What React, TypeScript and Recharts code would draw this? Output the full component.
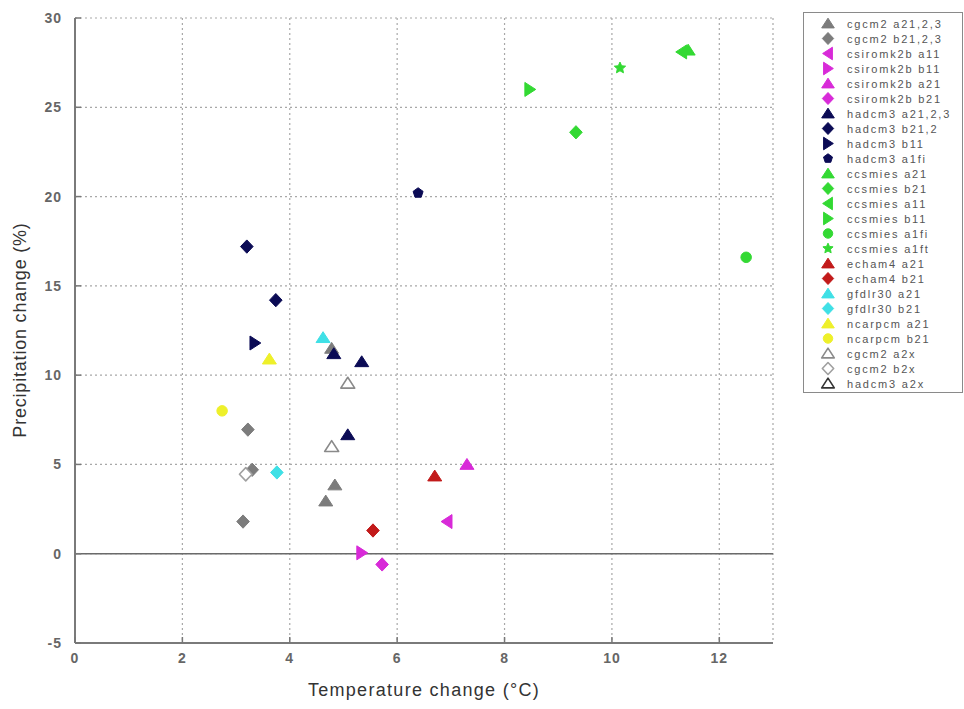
import React from 'react';
import { ScatterChart, Scatter, XAxis, YAxis, CartesianGrid, ReferenceLine, Legend } from 'recharts';

// ---- data (temperature change °C, precipitation change %) ----
const cgcm2A21 = [{ x: 4.78, y: 11.5 }, { x: 4.84, y: 3.85 }, { x: 4.67, y: 2.95 }];
const cgcm2B21 = [{ x: 3.22, y: 6.95 }, { x: 3.3, y: 4.7 }, { x: 3.13, y: 1.8 }];
const csiroA11 = [{ x: 6.93, y: 1.8 }];
const csiroB11 = [{ x: 5.34, y: 0.05 }];
const csiroA21 = [{ x: 7.3, y: 5.0 }];
const csiroB21 = [{ x: 5.72, y: -0.6 }];
const hadcm3A21 = [{ x: 4.82, y: 11.2 }, { x: 5.34, y: 10.75 }, { x: 5.08, y: 6.66 }];
const hadcm3B21 = [{ x: 3.2, y: 17.2 }, { x: 3.74, y: 14.2 }];
const hadcm3B11 = [{ x: 3.35, y: 11.8 }];
const hadcm3A1fi = [{ x: 6.39, y: 20.2 }];
const ccsmiesA21 = [{ x: 11.42, y: 28.2 }];
const ccsmiesB21 = [{ x: 9.33, y: 23.6 }];
const ccsmiesA11 = [{ x: 11.3, y: 28.1 }];
const ccsmiesB11 = [{ x: 8.47, y: 26.0 }];
const ccsmiesA1fi = [{ x: 12.5, y: 16.6 }];
const ccsmiesA1ft = [{ x: 10.15, y: 27.2 }];
const echam4A21 = [{ x: 6.7, y: 4.35 }];
const echam4B21 = [{ x: 5.55, y: 1.3 }];
const gfdlA21 = [{ x: 4.62, y: 12.1 }];
const gfdlB21 = [{ x: 3.76, y: 4.55 }];
const ncarA21 = [{ x: 3.62, y: 10.9 }];
const ncarB21 = [{ x: 2.74, y: 8.0 }];
const cgcm2A2x = [{ x: 5.08, y: 9.55 }, { x: 4.78, y: 6.0 }];
const cgcm2B2x = [{ x: 3.18, y: 4.45 }];
const hadcm3A2x: { x: number; y: number }[] = [];

const xTicks = [0, 2, 4, 6, 8, 10, 12];
const yTicks = [-5, 0, 5, 10, 15, 20, 25, 30];

const GRAY = '#7c7c7c';
const MAGENTA = '#d82ad8';
const NAVY = '#0b0b55';
const GREEN = '#33d933';
const RED = '#c21a1a';
const CYAN = '#3fe0e6';
const YELLOW = '#eef02a';

type Kind = 'up' | 'left' | 'right' | 'diamond' | 'circle' | 'pentagon' | 'star';

const seriesList: { name: string; data: { x: number; y: number }[]; kind: Kind; fill: string; stroke: string }[] = [
  { name: 'cgcm2 a21,2,3', data: cgcm2A21, kind: 'up', fill: GRAY, stroke: GRAY },
  { name: 'cgcm2 b21,2,3', data: cgcm2B21, kind: 'diamond', fill: GRAY, stroke: GRAY },
  { name: 'csiromk2b a11', data: csiroA11, kind: 'left', fill: MAGENTA, stroke: MAGENTA },
  { name: 'csiromk2b b11', data: csiroB11, kind: 'right', fill: MAGENTA, stroke: MAGENTA },
  { name: 'csiromk2b a21', data: csiroA21, kind: 'up', fill: MAGENTA, stroke: MAGENTA },
  { name: 'csiromk2b b21', data: csiroB21, kind: 'diamond', fill: MAGENTA, stroke: MAGENTA },
  { name: 'hadcm3 a21,2,3', data: hadcm3A21, kind: 'up', fill: NAVY, stroke: NAVY },
  { name: 'hadcm3 b21,2', data: hadcm3B21, kind: 'diamond', fill: NAVY, stroke: NAVY },
  { name: 'hadcm3 b11', data: hadcm3B11, kind: 'right', fill: NAVY, stroke: NAVY },
  { name: 'hadcm3 a1fi', data: hadcm3A1fi, kind: 'pentagon', fill: NAVY, stroke: NAVY },
  { name: 'ccsmies a21', data: ccsmiesA21, kind: 'up', fill: GREEN, stroke: GREEN },
  { name: 'ccsmies b21', data: ccsmiesB21, kind: 'diamond', fill: GREEN, stroke: GREEN },
  { name: 'ccsmies a11', data: ccsmiesA11, kind: 'left', fill: GREEN, stroke: GREEN },
  { name: 'ccsmies b11', data: ccsmiesB11, kind: 'right', fill: GREEN, stroke: GREEN },
  { name: 'ccsmies a1fi', data: ccsmiesA1fi, kind: 'circle', fill: GREEN, stroke: GREEN },
  { name: 'ccsmies a1ft', data: ccsmiesA1ft, kind: 'star', fill: GREEN, stroke: GREEN },
  { name: 'echam4 a21', data: echam4A21, kind: 'up', fill: RED, stroke: RED },
  { name: 'echam4 b21', data: echam4B21, kind: 'diamond', fill: RED, stroke: RED },
  { name: 'gfdlr30 a21', data: gfdlA21, kind: 'up', fill: CYAN, stroke: CYAN },
  { name: 'gfdlr30 b21', data: gfdlB21, kind: 'diamond', fill: CYAN, stroke: CYAN },
  { name: 'ncarpcm a21', data: ncarA21, kind: 'up', fill: YELLOW, stroke: YELLOW },
  { name: 'ncarpcm b21', data: ncarB21, kind: 'circle', fill: YELLOW, stroke: YELLOW },
  { name: 'cgcm2 a2x', data: cgcm2A2x, kind: 'up', fill: '#ffffff', stroke: '#8a8a8a' },
  { name: 'cgcm2 b2x', data: cgcm2B2x, kind: 'diamond', fill: '#ffffff', stroke: '#a0a0a0' },
  { name: 'hadcm3 a2x', data: hadcm3A2x, kind: 'up', fill: '#ffffff', stroke: '#333333' },
];

function Marker({ cx, cy, kind, fill, stroke, s }: { cx: number; cy: number; kind: Kind; fill: string; stroke: string; s: number }) {
  const sw = fill === '#ffffff' ? 1.6 : 1;
  let pts = '';
  if (kind === 'up') pts = `${cx},${cy - s * 0.85} ${cx + s},${cy + s * 0.7} ${cx - s},${cy + s * 0.7}`;
  else if (kind === 'left') pts = `${cx - s * 0.85},${cy} ${cx + s * 0.7},${cy - s} ${cx + s * 0.7},${cy + s}`;
  else if (kind === 'right') pts = `${cx + s * 0.85},${cy} ${cx - s * 0.7},${cy - s} ${cx - s * 0.7},${cy + s}`;
  else if (kind === 'diamond') pts = `${cx},${cy - s * 0.95} ${cx + s * 0.9},${cy} ${cx},${cy + s * 0.95} ${cx - s * 0.9},${cy}`;
  else if (kind === 'circle') return <circle cx={cx} cy={cy} r={s * 0.75} fill={fill} stroke={stroke} />;
  else if (kind === 'pentagon') {
    const p: string[] = [];
    for (let i = 0; i < 5; i++) {
      const a = -Math.PI / 2 + (i * 2 * Math.PI) / 5;
      p.push(`${cx + Math.cos(a) * s * 0.75},${cy + Math.sin(a) * s * 0.75}`);
    }
    pts = p.join(' ');
  } else if (kind === 'star') {
    const p: string[] = [];
    for (let i = 0; i < 10; i++) {
      const a = -Math.PI / 2 + (i * Math.PI) / 5;
      const r = i % 2 === 0 ? s * 0.85 : s * 0.4;
      p.push(`${cx + Math.cos(a) * r},${cy + Math.sin(a) * r}`);
    }
    pts = p.join(' ');
  }
  return <polygon points={pts} fill={fill} stroke={stroke} strokeWidth={sw} strokeLinejoin="round" />;
}

const FONT = '"Liberation Sans", Arial, sans-serif';

const XTick = (props: any) => {
  const { x, y, payload } = props;
  return (
    <g>
      <line x1={x} y1={y} x2={x} y2={y - 6} stroke="#777" strokeWidth={1.5} />
      <text x={x} y={y + 20} textAnchor="middle" fill="#666" fontSize={14} fontWeight="bold" letterSpacing={1} fontFamily={FONT}>
        {payload.value}
      </text>
    </g>
  );
};
const YTick = (props: any) => {
  const { x, y, payload } = props;
  return (
    <g>
      <line x1={x} y1={y} x2={x + 6} y2={y} stroke="#777" strokeWidth={1.5} />
      <text x={x - 13} y={y + 5} textAnchor="end" fill="#666" fontSize={14} fontWeight="bold" letterSpacing={1} fontFamily={FONT}>
        {payload.value}
      </text>
    </g>
  );
};
const TopTick = (props: any) => {
  const { x, y } = props;
  return <line x1={x} y1={y} x2={x} y2={y + 6} stroke="#777" strokeWidth={1.5} />;
};
const RightTick = (props: any) => {
  const { x, y } = props;
  return <line x1={x} y1={y} x2={x - 6} y2={y} stroke="#777" strokeWidth={1.5} />;
};

const renderLegend = () => (
  <div
    style={{
      border: '1.5px solid #8a8a8a',
      width: 160,
      height: 381,
      boxSizing: 'border-box',
      paddingTop: 3,
      background: '#fff',
      fontFamily: FONT,
    }}
  >
    {seriesList.map((s) => (
      <div key={s.name} style={{ height: 15, display: 'flex', alignItems: 'center' }}>
        <svg width={43} height={15} style={{ flex: 'none' }}>
          <Marker cx={24} cy={7.5} kind={s.kind} fill={s.fill} stroke={s.stroke} s={6.3} />
        </svg>
        <span style={{ fontSize: 11, color: '#555', whiteSpace: 'nowrap', letterSpacing: 1.8 }}>{s.name}</span>
      </div>
    ))}
  </div>
);

export default function App() {
  return (
    <div style={{ position: 'absolute', left: 0, top: 0, width: 964, height: 709, background: '#fff' }}>
      <ScatterChart width={964} height={709} margin={{ top: 18, right: 31, left: 30, bottom: 0 }}>
        <CartesianGrid stroke="#a8a8a8" strokeDasharray="2 3" strokeWidth={1.2} />
        <XAxis
          type="number"
          dataKey="x"
          xAxisId={0}
          domain={[0, 13]}
          ticks={xTicks}
          height={66}
          tickSize={0}
          tickMargin={0}
          tickLine={false}
          axisLine={{ stroke: '#7a7a7a', strokeWidth: 2 }}
          tick={<XTick />}
          interval={0}
          label={({ viewBox }: any) => (
            <text
              x={viewBox.x + viewBox.width / 2}
              y={viewBox.y + 53}
              textAnchor="middle"
              fill="#333"
              fontSize={18}
              letterSpacing={1.3}
              fontFamily={FONT}
            >
              Temperature change (°C)
            </text>
          )}
        />
        <XAxis
          type="number"
          xAxisId="top"
          orientation="top"
          domain={[0, 13]}
          ticks={xTicks}
          height={0}
          tickSize={0}
          tickMargin={0}
          tickLine={false}
          axisLine={{ stroke: '#7a7a7a', strokeWidth: 2 }}
          tick={<TopTick />}
          interval={0}
        />
        <YAxis
          type="number"
          dataKey="y"
          yAxisId={0}
          domain={[-5, 30]}
          ticks={yTicks}
          width={45}
          tickSize={0}
          tickMargin={0}
          tickLine={false}
          axisLine={{ stroke: '#7a7a7a', strokeWidth: 2 }}
          tick={<YTick />}
          interval={0}
          label={() => {
            const cx = 20;
            const cy = 330;
            return (
              <text
                x={cx}
                y={cy}
                transform={`rotate(-90 ${cx} ${cy})`}
                textAnchor="middle"
                dominantBaseline="central"
                fill="#333"
                fontSize={18}
                letterSpacing={0.8}
                fontFamily={FONT}
              >
                Precipitation change (%)
              </text>
            );
          }}
        />
        <YAxis
          type="number"
          yAxisId="right"
          orientation="right"
          domain={[-5, 30]}
          ticks={yTicks}
          width={0}
          tickSize={0}
          tickMargin={0}
          tickLine={false}
          axisLine={{ stroke: '#7a7a7a', strokeWidth: 2 }}
          tick={<RightTick />}
          interval={0}
        />
        <ReferenceLine y={0} stroke="#6a6a6a" strokeWidth={1.5} />
        <Legend
          content={renderLegend}
          layout="vertical"
          verticalAlign="top"
          align="right"
          wrapperStyle={{ left: 803, top: 12, width: 160, right: 'auto' }}
        />
        {seriesList.map((s) => (
          <Scatter
            key={s.name}
            name={s.name}
            data={s.data}
            isAnimationActive={false}
            fill={s.fill}
            shape={(p: any) => <Marker cx={p.cx} cy={p.cy} kind={s.kind} fill={s.fill} stroke={s.stroke} s={7} />}
          />
        ))}
      </ScatterChart>
    </div>
  );
}
